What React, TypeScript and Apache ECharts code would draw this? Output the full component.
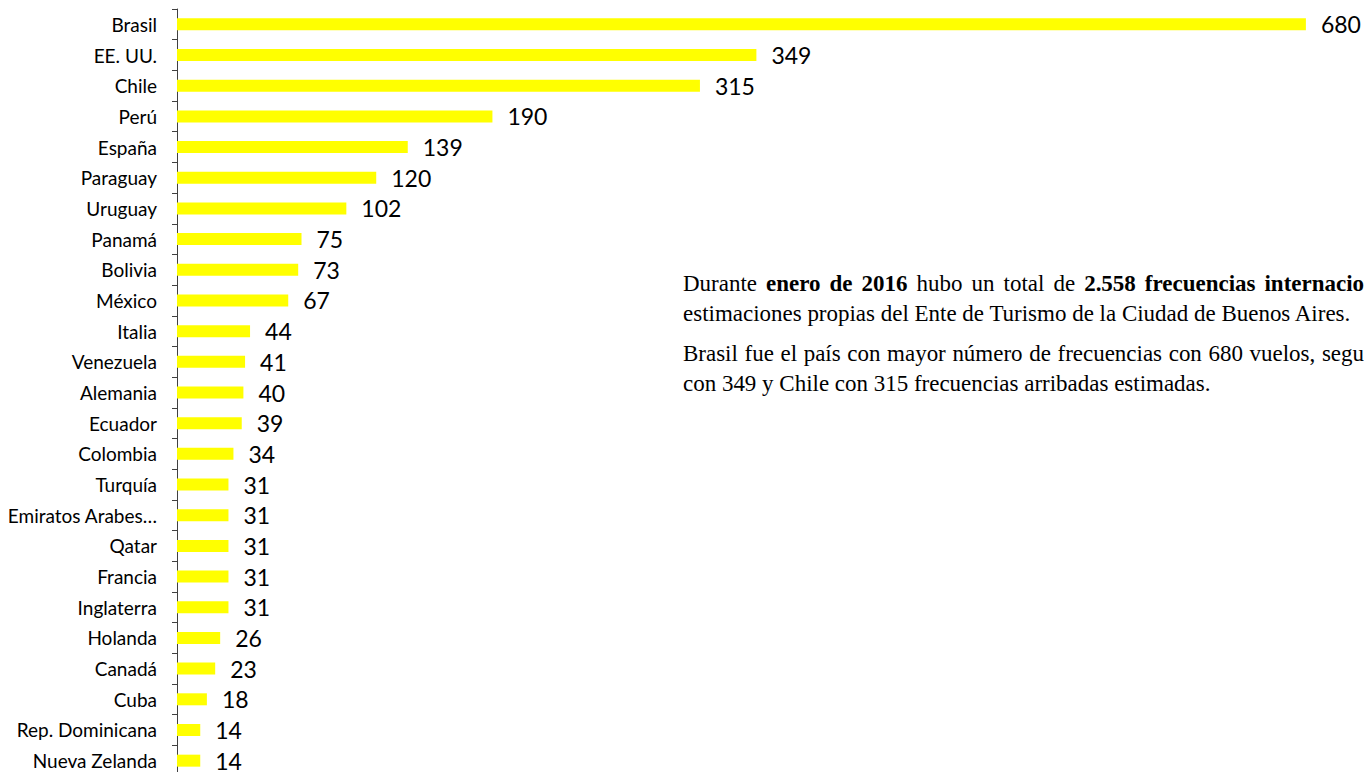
import React, { useEffect, useRef } from "react";
import * as echarts from "echarts";

const categories = [
  "Brasil", "EE. UU.", "Chile", "Perú", "España", "Paraguay", "Uruguay", "Panamá",
  "Bolivia", "México", "Italia", "Venezuela", "Alemania", "Ecuador", "Colombia",
  "Turquía", "Emiratos Arabes Unidos", "Qatar", "Francia", "Inglaterra", "Holanda",
  "Canadá", "Cuba", "Rep. Dominicana", "Nueva Zelanda",
];
const values = [680, 349, 315, 190, 139, 120, 102, 75, 73, 67, 44, 41, 40, 39, 34, 31, 31, 31, 31, 31, 26, 23, 18, 14, 14];

// Paragraph text: [word, bold]
const line1: [string, boolean][] = [
  ["Durante", false], ["enero", true], ["de", true], ["2016", true], ["hubo", false],
  ["un", false], ["total", false], ["de", false], ["2.558", true], ["frecuencias", true],
  ["internacionales", true],
];
const line1Visible = "internacio";
const line2 = "estimaciones propias del Ente de Turismo de la Ciudad de Buenos Aires.";
const line3: [string, boolean][] = [
  ["Brasil", false], ["fue", false], ["el", false], ["país", false], ["con", false],
  ["mayor", false], ["número", false], ["de", false], ["frecuencias", false], ["con", false],
  ["680", false], ["vuelos,", false], ["seguido", false],
];
const line3Visible = "segu";
const line4 = "con 349 y Chile con 315 frecuencias arribadas estimadas.";

const SERIF = '"Liberation Serif", serif';
const SANS = 'Lato, "Open Sans", sans-serif';

export default function App() {
  const ref = useRef<HTMLDivElement>(null);
  useEffect(() => {
    const el = ref.current!;
    const chart = echarts.init(el, null, { renderer: "svg" });
    const ctx = document.createElement("canvas").getContext("2d")!;
    const measure = (t: string, bold: boolean, fs: number) => {
      ctx.font = `${bold ? "bold " : ""}${fs}px "Liberation Serif"`;
      return ctx.measureText(t).width;
    };
    const leftX = 683;
    const rightEdge = 1364;
    const fs = (20 * 669) / measure(line2, false, 20);

    const textEl = (text: string, x: number, y: number, bold: boolean) => ({
      type: "text",
      x,
      y,
      style: {
        text,
        fill: "#000",
        fontSize: fs,
        fontFamily: SERIF,
        fontWeight: bold ? "bold" : "normal",
        verticalAlign: "middle",
      },
    });

    const justify = (words: [string, boolean][], visible: string, y: number) => {
      const widths = words.map(([t, b]) => measure(t, b, fs));
      const last = words[words.length - 1];
      const visW = measure(visible, last[1], fs);
      const sumBefore = widths.slice(0, -1).reduce((a, b) => a + b, 0);
      const gap = (rightEdge - leftX - sumBefore - visW) / (words.length - 1);
      let x = leftX;
      return words.map(([t, b], i) => {
        const e = textEl(t, x, y, b);
        x += widths[i] + gap;
        return e;
      });
    };

    const graphic = [
      ...justify(line1, line1Visible, 283),
      textEl(line2, leftX, 313, false),
      ...justify(line3, line3Visible, 353),
      textEl(line4, leftX, 383, false),
    ];

    chart.setOption({
      animation: false,
      grid: { left: 177, top: 9, width: 1187, height: 767, containLabel: false },
      xAxis: { type: "value", min: 0, max: 715, show: false },
      yAxis: {
        type: "category",
        inverse: true,
        data: categories,
        axisLine: { show: true, lineStyle: { color: "#404040", width: 1 } },
        axisTick: { show: true, length: 5, lineStyle: { color: "#404040" } },
        axisLabel: {
          color: "#000",
          fontSize: 19,
          fontFamily: SANS,
          margin: 20,
          formatter: (v: string) => (v.length > 16 ? v.slice(0, 15) + "…" : v),
        },
        splitLine: { show: false },
      },
      series: [
        {
          type: "bar",
          data: values,
          barWidth: 12,
          itemStyle: { color: "#FFFF00" },
          label: {
            show: true,
            position: "right",
            distance: 15,
            color: "#000",
            fontSize: 23,
            fontFamily: SANS,
          },
        },
      ],
      graphic,
    });
    return () => chart.dispose();
  }, []);
  return (
    <div
      ref={ref}
      style={{ position: "fixed", left: 0, top: 0, width: 1364, height: 780, background: "#fff" }}
    />
  );
}
